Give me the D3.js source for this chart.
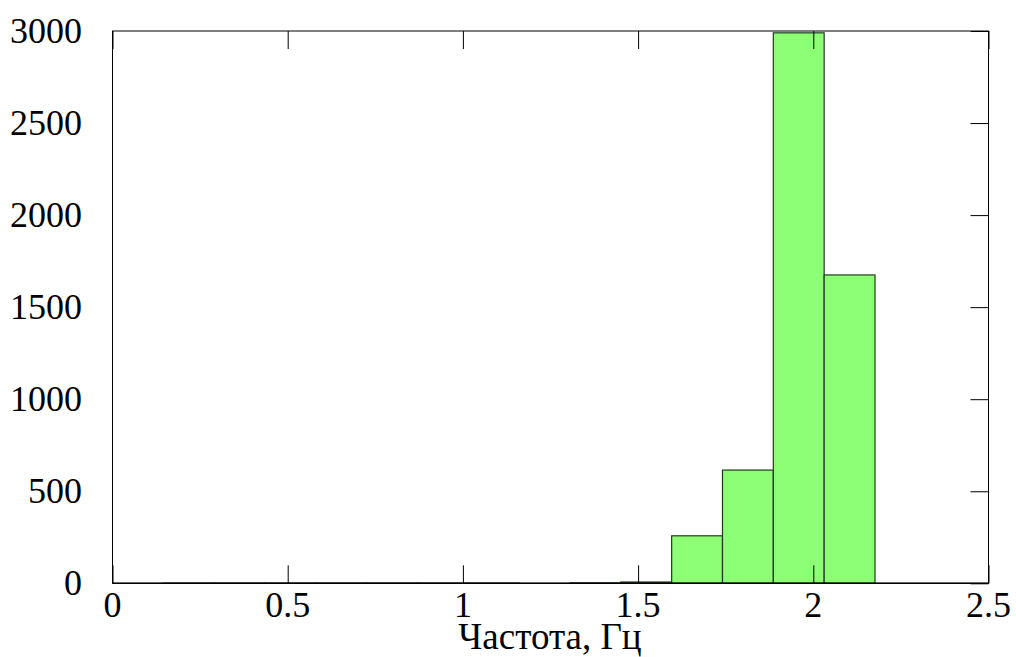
<!DOCTYPE html>
<html><head><meta charset="utf-8">
<script src="https://cdn.jsdelivr.net/npm/d3@7"></script>
<style>body{margin:0;background:#fff}svg{display:block}text{font-family:"Liberation Serif","Times New Roman",serif;fill:#000}</style>
</head><body>
<svg id="c" width="1016" height="657"></svg>
<script>
const binStart = 0;
const binWidth = 0.14507;
const counts = [0, 1, 1, 1, 1, 1, 1, 1, 0, 2, 7, 258, 615, 2990, 1675];
const xTicks = [0, 0.5, 1, 1.5, 2, 2.5];
const yTicks = [0, 500, 1000, 1500, 2000, 2500, 3000];
const xTitle = "Частота, Гц";

const m = {l:112.5, r:988.5, t:31, b:583.3};
const svg = d3.select("#c");
const x = d3.scaleLinear().domain([0, 2.5]).range([m.l, m.r]);
const y = d3.scaleLinear().domain([0, 3000]).range([m.b, m.t]);

const bins = counts.map((c,i)=>({x0: binStart + i*binWidth, x1: binStart + (i+1)*binWidth, c}));

svg.append("g").selectAll("rect").data(bins.filter(d=>d.c>0)).join("rect")
  .attr("x", d=>x(d.x0)).attr("width", d=>x(d.x1)-x(d.x0))
  .attr("y", d=>y(d.c)).attr("height", d=>y(0)-y(d.c))
  .attr("fill", "#8cff74").attr("stroke", "#1e3a1e").attr("stroke-width", 1.2);

// frame
svg.append("rect").attr("x", m.l).attr("y", m.t).attr("width", m.r-m.l).attr("height", m.b-m.t)
  .attr("fill", "none").attr("stroke", "#000").attr("stroke-width", 1);
svg.append("line").attr("x1", m.l).attr("x2", m.r).attr("y1", m.b).attr("y2", m.b)
  .attr("stroke", "#000").attr("stroke-width", 1.6);

const tl = 18;
const bt = d3.axisBottom(x).tickValues(xTicks).tickSize(-tl).tickFormat("");
const tt = d3.axisTop(x).tickValues(xTicks).tickSize(-tl).tickFormat("");
const rt = d3.axisRight(y).tickValues(yTicks).tickSize(-tl).tickFormat("");
[ [bt, `translate(0,${m.b})`], [tt, `translate(0,${m.t})`], [rt, `translate(${m.r},0)`] ].forEach(([a,t])=>{
  const g = svg.append("g").attr("transform", t).call(a);
  g.select(".domain").remove();
  g.selectAll("line").attr("stroke", "#000").attr("stroke-width", 1);
});

svg.append("g").selectAll("text").data(xTicks).join("text")
  .attr("x", d=>x(d)).attr("y", 617).attr("text-anchor", "middle")
  .attr("font-size", 36).text(d=>d3.format("")(d));
svg.append("g").selectAll("text").data(yTicks).join("text")
  .attr("x", 82).attr("y", d=>y(d)+11.5).attr("text-anchor", "end")
  .attr("font-size", 36).text(d=>d);
svg.append("text").attr("x", 550).attr("y", 649).attr("text-anchor", "middle")
  .attr("font-size", 37).text(xTitle);
</script>
</body></html>
